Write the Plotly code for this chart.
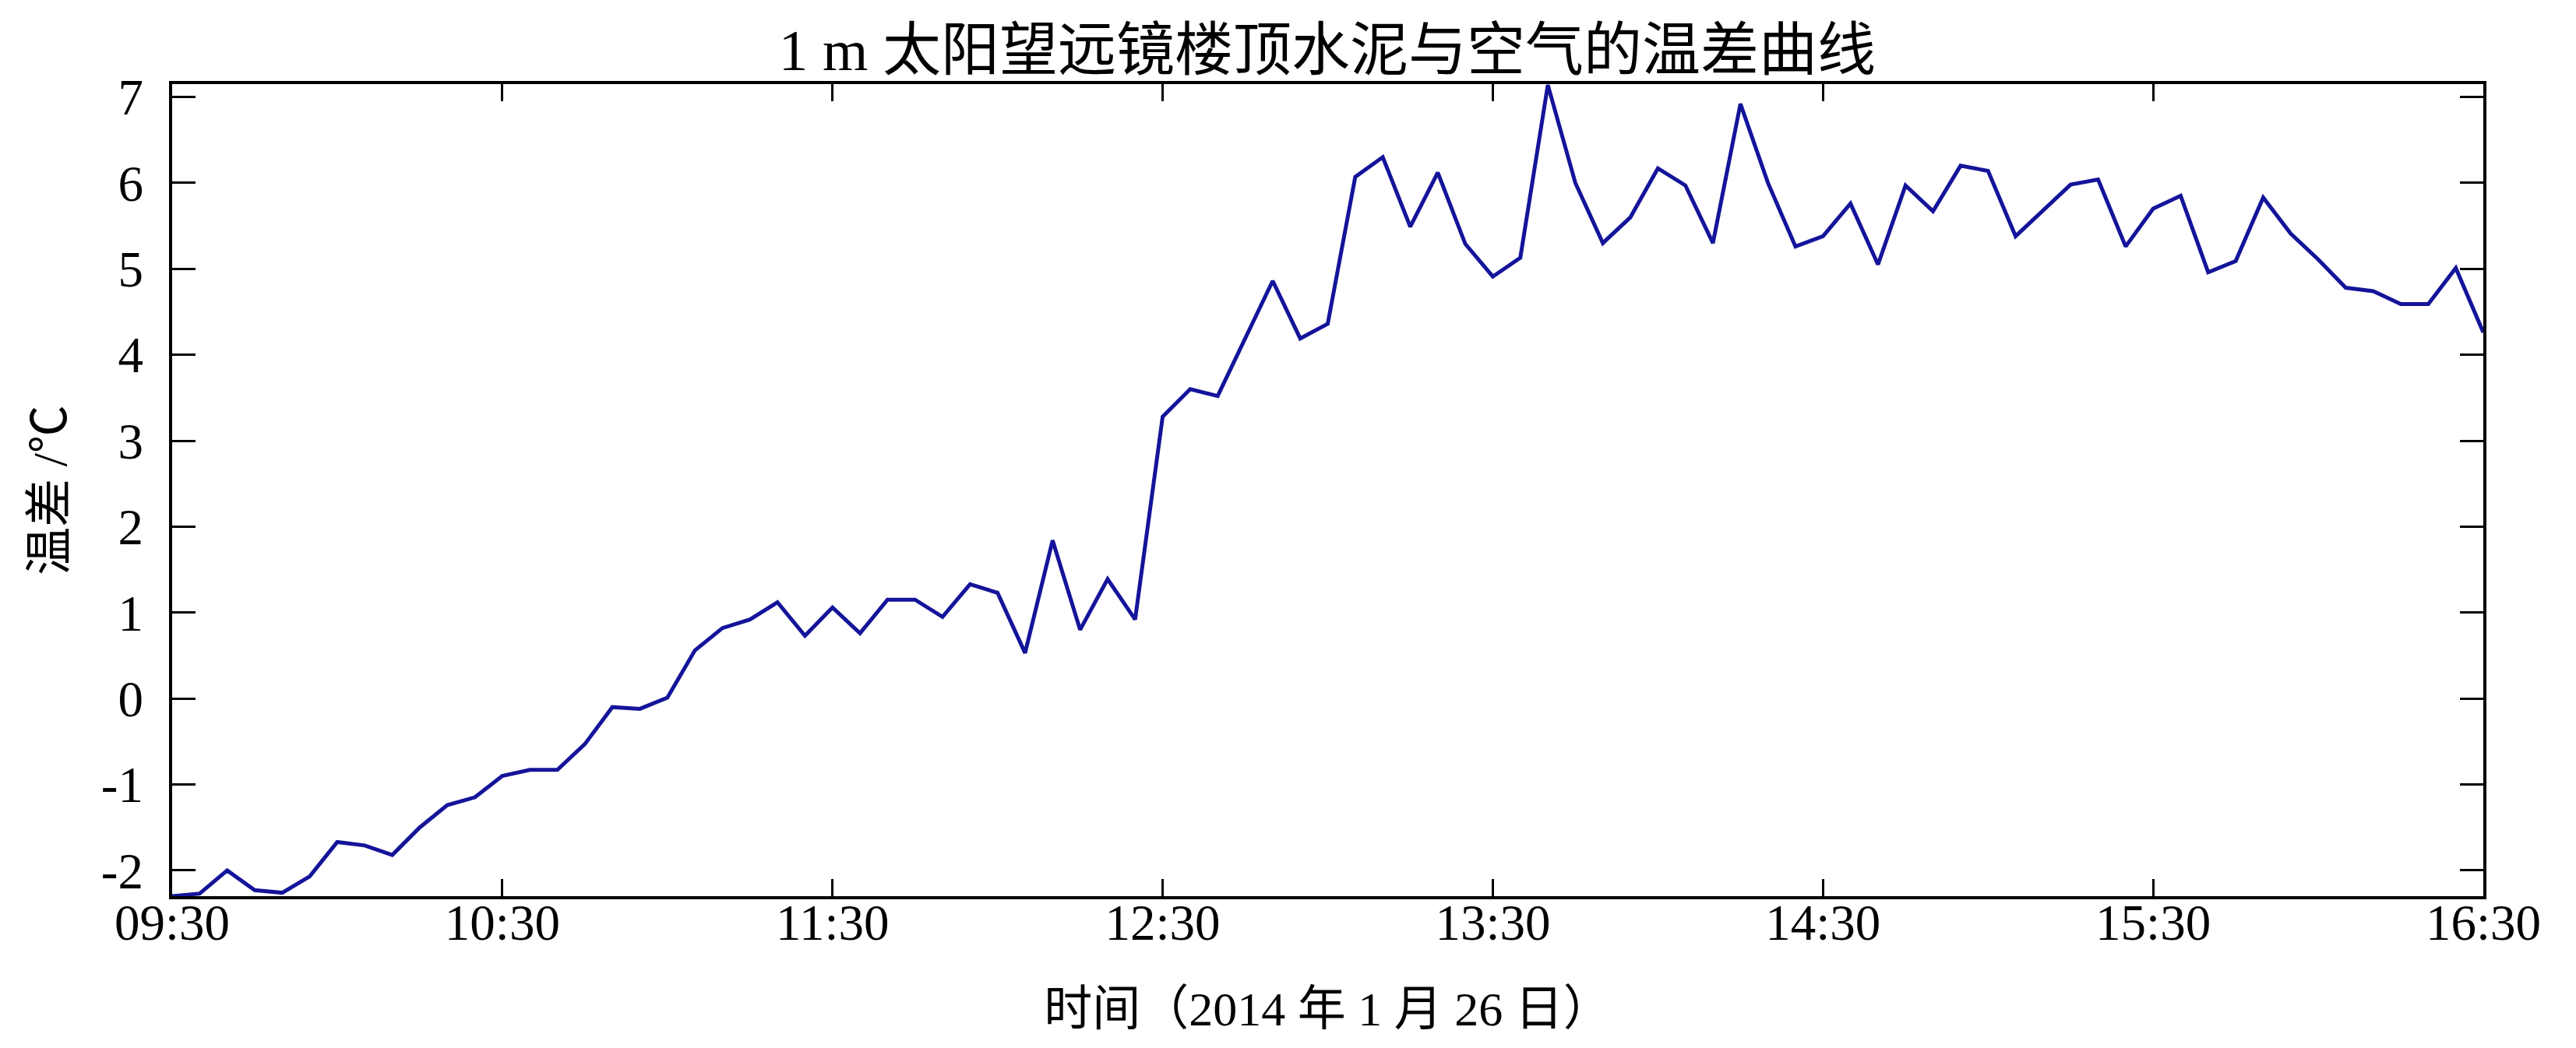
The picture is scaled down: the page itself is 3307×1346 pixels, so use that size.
import pandas as pd
import plotly.graph_objects as go

# sampling grid: one reading every 5 minutes
start_time = "2014-01-26 09:30"
end_time = "2014-01-26 16:30"
step = "5min"

# temperature difference (roof concrete - air), degC
temp_diff = [
    -2.30, -2.27, -2.00, -2.23, -2.26, -2.07, -1.67, -1.71, -1.82, -1.50,
    -1.24, -1.15, -0.90, -0.83, -0.83, -0.53, -0.10, -0.12, 0.01, 0.56,
    0.82, 0.92, 1.12, 0.73, 1.06, 0.76, 1.15, 1.15, 0.95, 1.33,
    1.23, 0.53, 1.84, 0.80, 1.39, 0.92, 3.28, 3.60, 3.52, 4.19,
    4.86, 4.19, 4.36, 6.07, 6.30, 5.49, 6.12, 5.29, 4.91, 5.13,
    7.14, 6.00, 5.30, 5.60, 6.17, 5.97, 5.30, 6.92, 6.00, 5.26,
    5.38, 5.76, 5.05, 5.97, 5.67, 6.20, 6.14, 5.38, 5.68, 5.98,
    6.04, 5.26, 5.70, 5.85, 4.96, 5.09, 5.83, 5.41, 5.11, 4.78,
    4.74, 4.59, 4.59, 5.01, 4.26,
]
y_ticks = [-2, -1, 0, 1, 2, 3, 4, 5, 6, 7]
y_ticktext = ["-2", "-1", "0", "1", "2", "3", "4", "5", "6", "7"]

times = pd.date_range(start_time, end_time, freq=step)

FONT = "Liberation Serif, Times New Roman, Noto Sans CJK SC, serif"

fig = go.Figure()
fig.add_trace(go.Scatter(x=times, y=temp_diff, mode="lines",
                         line=dict(color="#14149a", width=5),
                         showlegend=False))

axis_common = dict(showline=True, linecolor="black", linewidth=4,
                   mirror="allticks", ticks="inside", tickcolor="black",
                   tickwidth=3, showgrid=False, zeroline=False,
                   tickfont=dict(family=FONT, size=65, color="black"))

fig.update_xaxes(**axis_common, range=[start_time, end_time],
                 tick0=start_time, dtick=3600000, tickformat="%H:%M",
                 ticklen=22, ticklabelstandoff=-26,
                 title=dict(text="时间（2014 年 1 月 26 日）", standoff=55,
                            font=dict(family=FONT, size=62, color="black")))
fig.update_yaxes(**axis_common, range=[-2.3, 7.15], tickvals=y_ticks,
                 ticktext=y_ticktext, ticklen=30, ticklabelstandoff=20,
                 title=dict(text="温差 /℃", standoff=25,
                            font=dict(family=FONT, size=62, color="black")))

fig.update_layout(
    width=3307, height=1346,
    margin=dict(l=213, r=127, t=100, b=203),
    paper_bgcolor="white", plot_bgcolor="white",
    title=dict(text="1 m 太阳望远镜楼顶水泥与空气的温差曲线",
               x=0.5128, xanchor="center", y=1 - 56 / 1346, yanchor="middle",
               font=dict(family=FONT, size=75, color="black")),
)

fig.write_html("out.html")
